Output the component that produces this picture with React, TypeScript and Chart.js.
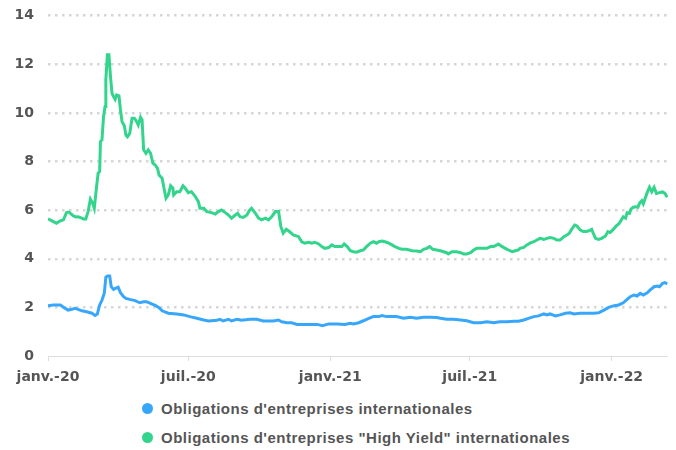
import React, { useEffect, useRef } from "react";
import { Chart, registerables } from "chart.js";

Chart.register(...registerables);

// x values are days since 1 Jan 2020
const tickDays = [0, 182, 366, 547, 731];
const tickLabels = ["janv.-20", "juil.-20", "janv.-21", "juil.-21", "janv.-22"];
const xMax = 804;

const seriesLabels = [
  "Obligations d'entreprises internationales",
  "Obligations d'entreprises \"High Yield\" internationales",
];
const seriesColors = ["#38a7fb", "#33d48c"];

const igDays = [
  0, 7, 16, 21, 26, 31, 35, 39, 44, 50, 57, 61, 64, 67, 70, 73, 75, 77, 80, 82, 85, 88, 91, 94, 98,
  101, 106, 113, 119, 124, 128, 132, 139, 144, 148, 156, 167, 176, 184, 193, 202, 208, 219, 223,
  227, 234, 238, 245, 251, 262, 271, 279, 292, 299, 303, 310, 316, 323, 336, 349, 356, 364, 375,
  385, 392, 396, 403, 409, 416, 422, 429, 433, 439, 448, 452, 461, 470, 478, 487, 496, 504, 509,
  517, 526, 535, 543, 552, 561, 569, 578, 586, 595, 604, 610, 617, 623, 630, 636, 643, 647, 651,
  658, 664, 671, 677, 682, 690, 699, 708, 714, 721, 727, 733, 740, 746, 751, 755, 760, 764, 768,
  772, 777, 781, 786, 790, 793, 797, 800, 803,
];
const igValues = [
  2.07, 2.1, 2.1, 1.99, 1.89, 1.92, 1.96, 1.92, 1.86, 1.82, 1.76, 1.67, 1.73, 2.1, 2.3, 2.58, 3.24,
  3.29, 3.29, 2.85, 2.74, 2.79, 2.83, 2.6, 2.44, 2.37, 2.33, 2.28, 2.19, 2.23, 2.23, 2.18, 2.08,
  1.99, 1.86, 1.76, 1.73, 1.69, 1.62, 1.55, 1.48, 1.44, 1.47, 1.51, 1.44, 1.51, 1.44, 1.51, 1.47,
  1.51, 1.51, 1.44, 1.44, 1.48, 1.41, 1.37, 1.37, 1.3, 1.3, 1.3, 1.25, 1.32, 1.32, 1.3, 1.35, 1.32,
  1.37, 1.45, 1.55, 1.62, 1.62, 1.66, 1.62, 1.62, 1.62, 1.55, 1.59, 1.55, 1.59, 1.59, 1.58, 1.55,
  1.51, 1.51, 1.48, 1.45, 1.37, 1.37, 1.41, 1.37, 1.41, 1.41, 1.43, 1.43, 1.48, 1.55, 1.62, 1.65,
  1.73, 1.69, 1.73, 1.65, 1.69, 1.76, 1.78, 1.73, 1.76, 1.76, 1.76, 1.78, 1.89, 2.0, 2.06, 2.1,
  2.19, 2.33, 2.44, 2.51, 2.47, 2.58, 2.51, 2.6, 2.72, 2.85, 2.88, 2.85, 2.99, 3.02, 2.96,
];

const hyDays = [
  0, 4, 7, 11, 14, 16, 20, 24, 27, 29, 33, 36, 39, 43, 46, 49, 52, 55, 58, 60, 63, 65, 67, 68, 70,
  72, 74, 75, 77, 79, 81, 83, 85, 87, 89, 92, 94, 96, 99, 101, 103, 106, 109, 112, 115, 117, 120,
  122, 124, 127, 130, 133, 136, 139, 142, 144, 148, 150, 153, 156, 159, 162, 163, 167, 171, 175,
  178, 182, 186, 191, 195, 197, 202, 206, 212, 217, 221, 225, 230, 234, 238, 243, 246, 249, 253,
  258, 261, 264, 269, 273, 277, 282, 286, 290, 295, 299, 302, 305, 309, 313, 318, 325, 329, 333,
  338, 342, 346, 351, 355, 359, 364, 368, 372, 377, 381, 384, 388, 392, 396, 400, 405, 409, 413,
  418, 422, 426, 429, 433, 437, 442, 446, 450, 455, 459, 465, 472, 478, 483, 487, 491, 495, 499,
  504, 509, 513, 517, 519, 524, 530, 535, 539, 543, 548, 552, 556, 561, 565, 569, 574, 578, 582,
  584, 589, 593, 597, 602, 606, 610, 612, 617, 621, 625, 630, 634, 638, 643, 647, 651, 656, 660,
  664, 669, 673, 676, 679, 683, 686, 690, 694, 698, 702, 705, 708, 710, 714, 718, 723, 726, 729,
  733, 737, 740, 743, 746, 749, 751, 754, 756, 759, 762, 765, 767, 770, 772, 774, 777, 780, 783,
  786, 789, 793, 797, 800, 803,
];
const hyValues = [
  5.64, 5.58, 5.53, 5.46, 5.52, 5.56, 5.6, 5.9, 5.92, 5.87, 5.76, 5.72, 5.73, 5.68, 5.64, 5.64,
  5.94, 6.45, 6.28, 6.08, 6.97, 7.52, 7.59, 8.82, 8.89, 9.85, 10.26, 11.36, 12.39, 12.39, 11.5,
  10.81, 10.67, 10.56, 10.74, 10.7, 10.12, 9.64, 9.47, 9.09, 9.02, 9.16, 9.78, 9.78, 9.64, 9.5,
  9.82, 9.71, 8.48, 8.34, 8.48, 8.34, 7.93, 7.86, 7.72, 7.45, 7.31, 6.97, 6.49, 6.63, 7.0, 6.9,
  6.63, 6.76, 6.76, 7.0, 6.9, 6.72, 6.76, 6.56, 6.35, 6.08, 6.08, 5.94, 5.9, 5.84, 5.94, 6.01, 5.9,
  5.8, 5.67, 5.8, 5.87, 5.73, 5.7, 5.8, 5.98, 6.08, 5.87, 5.67, 5.6, 5.67, 5.6, 5.73, 5.94, 5.94,
  5.32, 5.05, 5.21, 5.12, 4.98, 4.91, 4.7, 4.64, 4.68, 4.64, 4.68, 4.61, 4.5, 4.43, 4.46, 4.57,
  4.5, 4.5, 4.5, 4.61, 4.5, 4.33, 4.29, 4.27, 4.33, 4.36, 4.5, 4.64, 4.7, 4.64, 4.7, 4.73, 4.7,
  4.64, 4.57, 4.5, 4.43, 4.39, 4.39, 4.33, 4.32, 4.29, 4.39, 4.43, 4.5, 4.39, 4.36, 4.33, 4.29,
  4.25, 4.2, 4.29, 4.29, 4.25, 4.2, 4.2, 4.25, 4.36, 4.43, 4.43, 4.43, 4.43, 4.5, 4.5, 4.57, 4.61,
  4.5, 4.43, 4.36, 4.29, 4.33, 4.36, 4.43, 4.47, 4.57, 4.64, 4.7, 4.77, 4.84, 4.8, 4.84, 4.87,
  4.84, 4.77, 4.77, 4.91, 4.98, 5.05, 5.21, 5.39, 5.35, 5.19, 5.12, 5.12, 5.16, 5.21, 4.98, 4.84,
  4.8, 4.84, 4.94, 5.12, 5.08, 5.21, 5.35, 5.43, 5.57, 5.73, 5.67, 5.9, 5.87, 6.04, 6.12, 6.14,
  6.12, 6.28, 6.39, 6.26, 6.45, 6.72, 6.94, 6.76, 6.94, 6.69, 6.72, 6.75, 6.69, 6.53,
];

const toPoints = (days: number[], values: number[]) =>
  days.map((d, i) => ({ x: d, y: values[i] }));

const TICK_FONT = { family: "'DejaVu Sans', sans-serif", size: 14, weight: "bold" as const };

export default function App() {
  const canvasRef = useRef<HTMLCanvasElement | null>(null);

  useEffect(() => {
    if (!canvasRef.current) return;
    const chart = new Chart(canvasRef.current, {
      type: "line",
      data: {
        datasets: [
          {
            label: seriesLabels[0],
            data: toPoints(igDays, igValues),
            borderColor: seriesColors[0],
            backgroundColor: seriesColors[0],
            borderWidth: 3,
            pointRadius: 0,
            tension: 0,
          },
          {
            label: seriesLabels[1],
            data: toPoints(hyDays, hyValues),
            borderColor: seriesColors[1],
            backgroundColor: seriesColors[1],
            borderWidth: 3,
            pointRadius: 0,
            tension: 0,
          },
        ],
      },
      options: {
        responsive: false,
        animation: false,
        layout: { padding: 0 },
        plugins: { legend: { display: false }, tooltip: { enabled: false } },
        scales: {
          x: {
            type: "linear",
            min: 0,
            max: xMax,
            afterBuildTicks: (scale: any) => {
              scale.ticks = tickDays.map((v) => ({ value: v }));
            },
            afterFit: (scale: any) => {
              scale.height = 28;
              scale.paddingTop = 0;
              scale.paddingBottom = 0;
            },
            ticks: {
              autoSkip: false,
              maxRotation: 0,
              padding: 8,
              color: "#555555",
              font: TICK_FONT,
              callback: (value: any) => {
                const i = tickDays.indexOf(Number(value));
                return i >= 0 ? tickLabels[i] : "";
              },
            },
            grid: {
              drawOnChartArea: false,
              drawTicks: true,
              tickLength: 5,
              color: "#dddddd",
              lineWidth: 1,
            },
            border: { display: true, color: "#dddddd", width: 1 },
          },
          y: {
            min: 0,
            max: 14,
            afterFit: (scale: any) => {
              scale.width = 40;
              scale.paddingTop = 7.7;
              scale.paddingBottom = 0;
            },
            ticks: {
              stepSize: 2,
              padding: 14,
              color: "#555555",
              font: TICK_FONT,
            },
            grid: {
              drawTicks: false,
              lineWidth: 2.5,
              color: (ctx: any) => (ctx.tick && ctx.tick.value === 0 ? "rgba(0,0,0,0)" : "#d6d6d6"),
            },
            border: { display: false, dash: [2.5, 4.5] },
          },
        },
      },
    });
    return () => chart.destroy();
  }, []);

  const rowStyle: React.CSSProperties = {
    display: "flex",
    alignItems: "center",
    height: 29,
  };
  const dot = (c: string): React.CSSProperties => ({
    width: 11,
    height: 11,
    borderRadius: "50%",
    background: c,
    marginRight: 8,
    flex: "0 0 auto",
  });
  const textStyle: React.CSSProperties = {
    fontFamily: "'Liberation Sans', Arial, sans-serif",
    fontWeight: "bold",
    fontSize: 15,
    letterSpacing: 0.5,
    color: "#555555",
    whiteSpace: "nowrap",
  };

  return (
    <div style={{ width: 660 }}>
      <canvas ref={canvasRef} width={660} height={376} style={{ display: "block" }} />
      <div style={{ marginTop: 10, paddingLeft: 134 }}>
        {seriesLabels.map((l, i) => (
          <div key={i} style={rowStyle}>
            <span style={dot(seriesColors[i])} />
            <span style={textStyle}>{l}</span>
          </div>
        ))}
      </div>
    </div>
  );
}
